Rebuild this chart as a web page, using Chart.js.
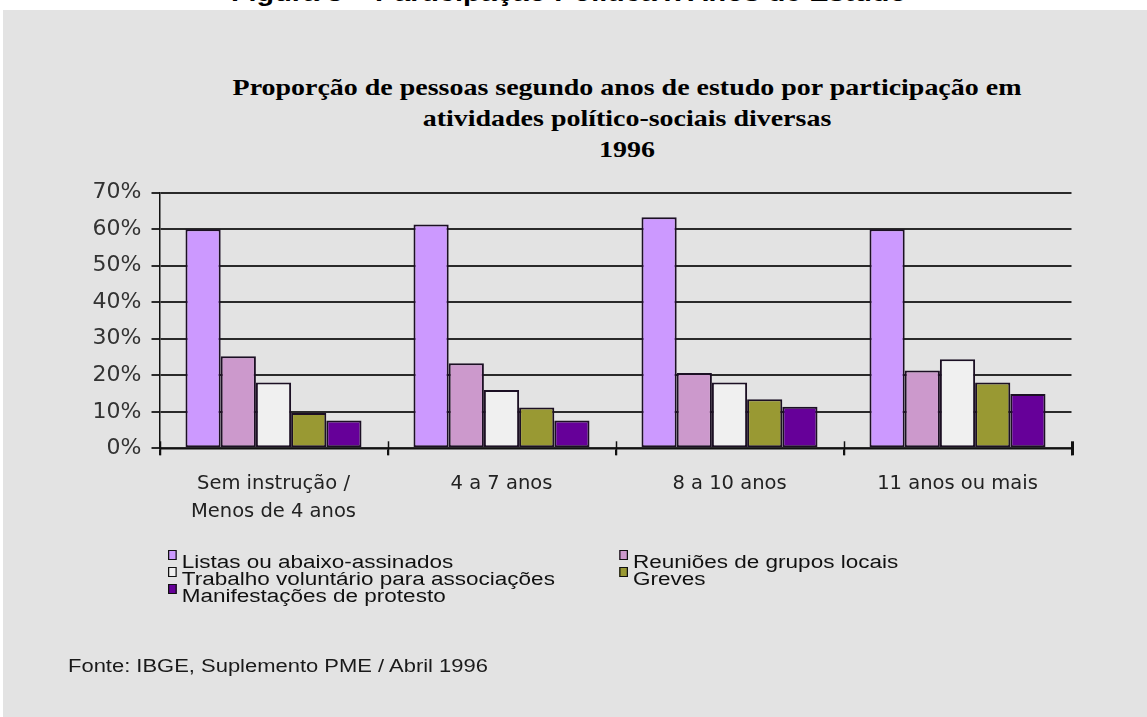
<!DOCTYPE html>
<html lang="pt-BR">
<head>
<meta charset="utf-8">
<title>Participação político-social por anos de estudo, 1996</title>
<script src="https://cdn.jsdelivr.net/npm/chart.js@4.4.1/dist/chart.umd.min.js"></script>
<style>
  html, body { margin: 0; padding: 0; width: 1147px; height: 717px; overflow: hidden; background: #fff; }
  body { position: relative; font-family: Arial, 'Liberation Sans', sans-serif; color: #222; }
  #caption { position: absolute; left: 0; top: -21px; width: 1138px; text-align: center;
             font: bold 24px/28px Arial, 'Liberation Sans', sans-serif; color: #000; white-space: nowrap;
             transform: scaleX(1.2); transform-origin: 569px 0; }
  #panel { position: absolute; left: 3px; top: 10px; right: 0; bottom: 0; background: #e3e3e3; }
  #wrap { position: absolute; left: 0; top: 0; width: 1147px; height: 717px; }
  #title { position: absolute; left: 127px; width: 1000px; top: 72px; text-align: center;
           font: bold 24px 'Liberation Serif', 'Times New Roman', serif; line-height: 31px; color: #000;
           transform: scaleX(1.165); transform-origin: 500px 0; }
  #legend { position: absolute; left: 168px; top: 554px; display: grid;
            grid-template-columns: 361px 361px; font-size: 18px; line-height: 17px; color: #111;
            transform: scaleX(1.25); transform-origin: 0 0; }
  #legend .item { position: relative; padding-left: 11px; white-space: nowrap; }
  #legend .sw { position: absolute; left: 0; top: -4px; width: 5px; height: 8px; border: 1px solid #111; }
  #source { position: absolute; left: 68px; top: 656px; font-size: 18px; color: #1a1a1a;
            white-space: nowrap; transform: scaleX(1.22); transform-origin: 0 0; }
</style>
</head>
<body>
<div id="caption">Figura 5 – Participação Política x Anos de Estudo</div>
<div id="panel"></div>
<div id="title">Proporção de pessoas segundo anos de estudo por participação em<br>atividades político-sociais diversas<br>1996</div>
<div id="wrap"><canvas id="chartEstudo"></canvas></div>
<div id="legend"></div>
<div id="source">Fonte: IBGE, Suplemento PME / Abril 1996</div>

<script>
'use strict';

// ─── DADOS ───────────────────────────────────────────────────

const CATEGORIAS = [['Sem instrução /', 'Menos de 4 anos'], '4 a 7 anos', '8 a 10 anos', '11 anos ou mais'];

const SERIES = [
  'Listas ou abaixo-assinados',
  'Reuniões de grupos locais',
  'Trabalho voluntário para associações',
  'Greves',
  'Manifestações de protesto'
];

const LISTAS        = [60, 61.3, 63.3, 60];
const REUNIOES      = [25.2, 23.3, 20.6, 21.3];
const TRABALHO      = [18, 16, 18, 24.4];
const GREVES        = [9.7, 11.2, 13.4, 18];
const MANIFESTACOES = [7.6, 7.6, 11.4, 14.9];

const Y_MAX = 70;
const Y_STEP = 10;

// ─── CORES ───────────────────────────────────────────────────

const CORES = ['#cc99ff', '#cc99cc', '#f0f0f0', '#999933', '#660099'];
const BORDA = '#1c1024';
const FONTE_EIXO = "'DejaVu Sans', Verdana, sans-serif";

const valores = [LISTAS, REUNIOES, TRABALHO, GREVES, MANIFESTACOES];

// marcas do eixo x cruzando a linha (como no Excel)
const crossTicks = {
  id: 'crossTicks',
  afterDraw(chart) {
    const x = chart.scales.x;
    const y0 = chart.chartArea.bottom;
    const c = chart.ctx;
    c.save();
    c.strokeStyle = '#111';
    for (let i = 0; i <= CATEGORIAS.length; i++) {
      const px = Math.round(x.getPixelForValue(i - 0.5)) + 0.5;
      c.lineWidth = i === CATEGORIAS.length ? 3 : 1.5;
      c.beginPath();
      c.moveTo(px, y0 - 7);
      c.lineTo(px, y0 + 7);
      c.stroke();
    }
    c.restore();
  }
};

const ctx = document.getElementById('chartEstudo');

new Chart(ctx, {
  type: 'bar',
  data: {
    labels: CATEGORIAS,
    datasets: SERIES.map((nome, i) => ({
      label: nome,
      data: valores[i],
      backgroundColor: CORES[i],
      borderColor: BORDA,
      borderWidth: 2,
      borderSkipped: false,
      categoryPercentage: 0.772,
      barPercentage: 1
    }))
  },
  options: {
    responsive: true,
    maintainAspectRatio: false,
    animation: false,
    layout: { padding: { left: 79.5, top: 192.7, right: 75.5, bottom: 188.7 } },
    plugins: {
      legend: { display: false },
      title: { display: false },
      tooltip: { enabled: false }
    },
    scales: {
      x: {
        afterFit: s => { s.height = 80; },
        grid: { offset: true, drawOnChartArea: false, color: '#111', lineWidth: 1.5, tickLength: 7 },
        border: { color: '#111', width: 1.5 },
        ticks: {
          autoSkip: false, maxRotation: 0, padding: 15, color: '#222',
          font: { family: FONTE_EIXO, size: 19.5, lineHeight: 1.42 }
        }
      },
      y: {
        min: 0,
        max: Y_MAX,
        clip: false,
        afterFit: s => { s.width = 80; },
        grid: { color: '#2a2a2a', lineWidth: 2, tickLength: 8 },
        border: { color: '#111', width: 1.5 },
        ticks: {
          stepSize: Y_STEP, padding: 10, color: '#333',
          font: { family: FONTE_EIXO, size: 22 },
          callback: v => v + '%'
        }
      }
    }
  },
  plugins: [crossTicks]
});

// ─── LEGENDA ─────────────────────────────────────────────────

const legend = document.getElementById('legend');
SERIES.forEach((nome, i) => {
  const item = document.createElement('div');
  item.className = 'item';
  item.innerHTML = `<span class="sw" style="background:${CORES[i]}"></span>${nome}`;
  legend.appendChild(item);
});
</script>
</body>
</html>
